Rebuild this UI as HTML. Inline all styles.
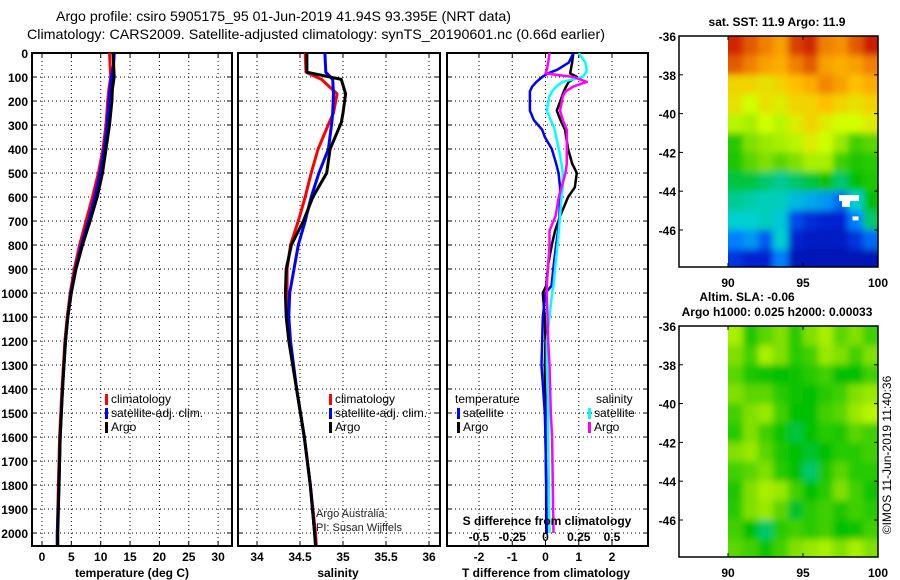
<!DOCTYPE html>
<html><head><meta charset="utf-8"><style>
html,body{margin:0;padding:0;background:#fff;}
svg{display:block;font-family:"Liberation Sans",sans-serif;}
</style></head><body>
<svg id="c" width="900" height="580" viewBox="0 0 900 580">
<defs><filter id="smooth" x="-5%" y="-5%" width="110%" height="110%"><feGaussianBlur stdDeviation="3.5"/><feComponentTransfer><feFuncA type="table" tableValues="0 1 1 1 1 1 1 1 1 1"/></feComponentTransfer></filter></defs>
</svg>
<script>
// ---- data ----
const depths = [0,50,100,150,200,300,400,500,600,700,800,900,1000,1100,1200,1400,1600,1800,2000,2050];
const tempArgo = [12.1,12.2,12.3,12.0,11.9,11.5,10.9,10.3,9.4,8.2,6.9,5.8,5.0,4.4,4.0,3.5,3.1,2.9,2.7,2.7];
const tempClim = [11.5,11.6,11.7,11.4,11.2,10.9,10.4,9.6,8.6,7.5,6.4,5.5,4.8,4.3,3.9,3.4,3.0,2.8,2.6,2.6];
const tempSat  = [12.3,12.2,11.8,11.6,11.4,11.1,10.6,9.9,9.0,7.9,6.7,5.7,4.9,4.4,4.0,3.5,3.1,2.9,2.6,2.6];
const salDepths = [0,80,110,170,250,290,400,500,600,700,800,900,1000,1100,1200,1400,1600,1800,2000,2050];
const salArgo = [34.58,34.58,34.98,35.03,35.00,34.98,34.85,34.81,34.65,34.54,34.40,34.34,34.33,34.34,34.37,34.46,34.55,34.62,34.67,34.68];
const salClim = [34.56,34.57,34.75,34.93,34.89,34.84,34.71,34.63,34.56,34.48,34.39,34.35,34.35,34.36,34.38,34.46,34.55,34.62,34.68,34.69];
const salSat  = [34.79,34.80,34.88,34.89,34.88,34.87,34.83,34.72,34.63,34.56,34.48,34.43,34.38,34.37,34.39,34.46,34.55,34.62,34.67,34.68];
const diffDepths = [0,40,70,85,100,120,140,160,180,240,280,320,350,400,460,500,560,600,680,740,800,880,970,1000,1100,1200,1300,1500,1600,1800,2000];
const dT_argo = [0.84,0.80,0.76,0.74,0.95,0.70,0.62,0.55,0.50,0.34,0.45,0.59,0.62,0.68,0.80,0.94,0.88,0.68,0.44,0.29,0.19,0.08,0.02,-0.08,-0.02,0.0,-0.02,0.0,0.0,0.02,0.02];
const dT_sat  = [0.84,0.70,0.35,0.07,-0.10,-0.27,-0.40,-0.47,-0.47,-0.47,-0.35,-0.10,-0.02,0.19,0.32,0.39,0.44,0.44,0.42,0.38,0.32,0.25,0.18,0.0,-0.08,-0.10,-0.12,-0.02,0.0,0.02,0.04];
const dS_sat  = [0.25,0.30,0.31,0.30,0.28,0.13,0.08,0.05,0.03,0.01,0.04,0.07,0.08,0.10,0.12,0.13,0.13,0.12,0.11,0.10,0.09,0.075,0.06,0.05,0.03,0.01,0.01,0.02,0.02,0.025,0.03];
const dS_argo = [0.03,0.02,0.01,0.0,0.21,0.31,0.21,0.15,0.13,0.11,0.13,0.16,0.16,0.16,0.16,0.15,0.12,0.10,0.075,0.03,0.03,0.02,0.01,0.01,0.015,0.02,0.03,0.04,0.05,0.055,0.06];
const tempTicks = [0,5,10,15,20,25,30];
const salTicks = [34,34.5,35,35.5,36];
const salTickLabels = ["34","34.5","35","35.5","36"];
const dTTicks = [-2,-1,0,1,2];
const dSTicks = [-0.5,-0.25,0,0.25,0.5];
const depthTicks = [0,100,200,300,400,500,600,700,800,900,1000,1100,1200,1300,1400,1500,1600,1700,1800,1900,2000];
const latTicks = [-36,-38,-40,-42,-44,-46];
const lonTicks = [90,95,100];
const sstGrid = [
[0.92,0.88,0.85,0.80,0.90,0.92,0.85,0.82,0.88,0.93],
[0.88,0.85,0.80,0.78,0.85,0.88,0.80,0.78,0.80,0.85],
[0.72,0.72,0.70,0.72,0.75,0.78,0.84,0.80,0.75,0.78],
[0.70,0.65,0.70,0.68,0.72,0.72,0.75,0.72,0.70,0.72],
[0.62,0.60,0.65,0.62,0.68,0.72,0.68,0.65,0.65,0.68],
[0.48,0.55,0.58,0.60,0.62,0.68,0.65,0.58,0.50,0.52],
[0.47,0.52,0.55,0.52,0.55,0.60,0.60,0.50,0.47,0.48],
[0.42,0.42,0.40,0.38,0.40,0.42,0.46,0.40,0.45,0.47],
[0.38,0.37,0.36,0.36,0.32,0.30,0.28,0.22,0.35,0.45],
[0.35,0.35,0.36,0.34,0.18,0.14,0.12,0.12,0.25,0.40],
[0.25,0.28,0.20,0.35,0.12,0.10,0.10,0.10,0.15,0.22],
[0.15,0.12,0.12,0.25,0.08,0.08,0.08,0.08,0.08,0.08]];
const slaGrid = [
[0.60,0.47,0.52,0.55,0.48,0.55,0.60,0.52,0.55,0.50],
[0.55,0.50,0.60,0.55,0.48,0.50,0.58,0.55,0.50,0.55],
[0.52,0.47,0.46,0.45,0.46,0.48,0.50,0.45,0.45,0.50],
[0.55,0.52,0.52,0.48,0.46,0.45,0.48,0.50,0.55,0.58],
[0.50,0.55,0.58,0.50,0.45,0.45,0.50,0.52,0.58,0.62],
[0.48,0.55,0.50,0.46,0.42,0.45,0.48,0.47,0.52,0.50],
[0.55,0.58,0.52,0.47,0.45,0.43,0.45,0.48,0.48,0.50],
[0.50,0.52,0.55,0.48,0.45,0.40,0.47,0.52,0.48,0.48],
[0.47,0.55,0.60,0.58,0.50,0.45,0.48,0.55,0.50,0.46],
[0.48,0.55,0.58,0.52,0.43,0.48,0.50,0.47,0.50,0.48],
[0.50,0.45,0.40,0.48,0.50,0.48,0.50,0.45,0.46,0.50],
[0.52,0.50,0.46,0.50,0.55,0.58,0.60,0.55,0.60,0.55]];

const NS="http://www.w3.org/2000/svg";
const svg=document.getElementById('c');
function el(tag,attrs,parent){const e=document.createElementNS(NS,tag);for(const k in attrs)e.setAttribute(k,attrs[k]);(parent||svg).appendChild(e);return e;}
function txt(s,x,y,attrs,parent){const t=el('text',Object.assign({x:x,y:y,'font-size':13,'font-weight':'bold',fill:'#000'},attrs||{}),parent);t.textContent=s;return t;}

const TOP=53, BOT=546;
const yD=d=>TOP+d*0.24;
const P1={l:32,r:232}, P2={l:238,r:440}, P3={l:447,r:648};
const xT=v=>42+v*5.87;
const xS=v=>257+(v-34)*86;
const xDT=v=>545.5+v*33.25;
const xDS=v=>545.5+v*133;

function panel(P,name,vticks,xf){
  const g=el('g',{});
  
  
  el('rect',{x:P.l,y:TOP,width:P.r-P.l,height:BOT-TOP,fill:'#fff',stroke:'none'},g);
  depthTicks.forEach(d=>{el('line',{x1:P.l,x2:P.r,y1:yD(d),y2:yD(d),stroke:'#000','stroke-width':1,'stroke-dasharray':'1,3'},g);
    el('line',{x1:P.l,x2:P.l+5,y1:yD(d),y2:yD(d),stroke:'#000'},g);el('line',{x1:P.r-5,x2:P.r,y1:yD(d),y2:yD(d),stroke:'#000'},g);});
  vticks.forEach(v=>{const x=xf(v);el('line',{x1:x,x2:x,y1:TOP,y2:BOT,stroke:'#000','stroke-width':1,'stroke-dasharray':'1,3'},g);
    el('line',{x1:x,x2:x,y1:BOT,y2:BOT-5,stroke:'#000'},g);el('line',{x1:x,x2:x,y1:TOP,y2:TOP+5,stroke:'#000'},g);});
  return g;
}
function frame(P,g){el('rect',{x:P.l,y:TOP,width:P.r-P.l,height:BOT-TOP,fill:'none',stroke:'#000','stroke-width':2},g);}
function clip(P,id){const cp=el('clipPath',{id:id});el('rect',{x:P.l,y:TOP,width:P.r-P.l,height:BOT-TOP},cp);}
clip(P1,'c1');clip(P2,'c2');clip(P3,'c3');
function line(ds,vals,xf,color,name,cid,w){
  const pts=ds.map((d,i)=>xf(vals[i]).toFixed(1)+','+yD(d).toFixed(1)).join(' ');
  const p=el('polyline',{points:pts,fill:'none',stroke:color,'stroke-width':w||3,'stroke-linejoin':'round','clip-path':'url(#'+cid+')'});
  
  
}
function legendEntry(x,y,color,label,name,g){
  const e=el('g',{},g);
  
  
  el('rect',{x:x,y:y-9,width:3,height:11,fill:color},e);
  txt(label,x+6,y,{'font-size':12,'font-weight':'normal'},e);
}

txt('Argo profile: csiro 5905175_95 01-Jun-2019 41.94S 93.395E (NRT data)',56,21,{'font-size':14,'font-weight':'normal',textLength:455,lengthAdjust:'spacingAndGlyphs'});
txt('Climatology: CARS2009. Satellite-adjusted climatology: synTS_20190601.nc (0.66d earlier)',27,39,{'font-size':14,'font-weight':'normal',textLength:578,lengthAdjust:'spacingAndGlyphs'});

depthTicks.forEach(d=>{const t=txt(String(d),28,yD(d)+5,{'text-anchor':'end','font-size':12});});

const g1=panel(P1,'temperature-panel',tempTicks,xT);
line(depths,tempClim,xT,'#f00','climatology-temp-line','c1');
line(depths,tempSat,xT,'#00f','satellite-temp-line','c1');
line(depths,tempArgo,xT,'#000','argo-temp-line','c1');
frame(P1,g1);
tempTicks.forEach(v=>{const t=txt(String(v),xT(v),561,{'text-anchor':'middle','font-size':12});});
txt('temperature (deg C)',132,577,{'text-anchor':'middle','font-size':12});
const lg1=el('g',{});
legendEntry(105,403,'#f00','climatology','legend-climatology',lg1);
legendEntry(105,417,'#00f','satellite-adj. clim.','legend-satellite',lg1);
legendEntry(105,431,'#000','Argo','legend-argo',lg1);

const g2=panel(P2,'salinity-panel',salTicks,xS);
line(salDepths,salClim,xS,'#f00','climatology-sal-line','c2');
line(salDepths,salSat,xS,'#00f','satellite-sal-line','c2');
line(salDepths,salArgo,xS,'#000','argo-sal-line','c2');
frame(P2,g2);
salTicks.forEach((v,i)=>{const t=txt(salTickLabels[i],xS(v),561,{'text-anchor':'middle','font-size':12});});
txt('salinity',338,577,{'text-anchor':'middle','font-size':12});
const lg2=el('g',{});
legendEntry(329,403,'#f00','climatology','legend-climatology',lg2);
legendEntry(329,417,'#00f','satellite-adj. clim.','legend-satellite',lg2);
legendEntry(329,431,'#000','Argo','legend-argo',lg2);
txt('Argo Australia',316,517,{'font-size':11,'font-weight':'normal',fill:'#222'});
txt('PI: Susan Wijffels',316,531,{'font-size':11,'font-weight':'normal',fill:'#222'});

const g3=panel(P3,'difference-panel',dTTicks,xDT);
line(diffDepths,dT_argo,xDT,'#000','argo-temp-diff-line','c3',2.5);
line(diffDepths,dT_sat,xDT,'#00f','satellite-temp-diff-line','c3',2.5);
line(diffDepths,dS_sat,xDS,'#0ff','satellite-sal-diff-line','c3',2.5);
line(diffDepths,dS_argo,xDS,'#f0f','argo-sal-diff-line','c3',2.5);
frame(P3,g3);
dTTicks.forEach(v=>{const t=txt(String(v),xDT(v),561,{'text-anchor':'middle','font-size':12});});
txt('T difference from climatology',546,577,{'text-anchor':'middle','font-size':12});
txt('S difference from climatology',547,525,{'text-anchor':'middle','font-size':12});
dSTicks.forEach(v=>{const t=txt(String(v),xDS(v),541,{'text-anchor':'middle','font-size':12});});
const lg3=el('g',{});
txt('temperature',455,403,{'font-size':12,'font-weight':'normal'},lg3);
txt('salinity',596,403,{'font-size':12,'font-weight':'normal'},lg3);
legendEntry(457,417,'#00f','satellite','legend-temp-satellite',lg3);
legendEntry(457,431,'#000','Argo','legend-temp-argo',lg3);
legendEntry(588,417,'#0ff','satellite','legend-sal-satellite',lg3);
legendEntry(588,431,'#f0f','Argo','legend-sal-argo',lg3);

const cstops=[[0,[0,0,127]],[0.12,[0,32,208]],[0.25,[0,128,255]],[0.35,[0,208,208]],[0.45,[0,192,0]],[0.55,[128,224,0]],[0.65,[208,255,0]],[0.75,[255,192,0]],[0.85,[240,128,0]],[0.95,[192,0,0]],[1,[144,0,0]]];
function cmap(v){for(let i=1;i<cstops.length;i++){if(v<=cstops[i][0]){const a=cstops[i-1],b=cstops[i];const f=(v-a[0])/(b[0]-a[0]);const c=a[1].map((q,j)=>Math.round(q+(b[1][j]-q)*f));return 'rgb('+c.join(',')+')';}}return 'rgb(144,0,0)';}
function map(top,bottom,grid,name){
  const L=679,R=878;
  const xL=lon=>728+(lon-90)*15;
  const yL=lat=>top+(-36-lat)*19.4;
  const g=el('g',{});
  
  
  const cpid='cp'+name;const cp=el('clipPath',{id:cpid},g);el('rect',{x:728,y:top,width:R-728,height:bottom-top},cp);
  const outer=el('g',{'clip-path':'url(#'+cpid+')'},g);
  const cg=el('g',{filter:'url(#smooth)'},outer);
  grid.forEach((row,r)=>row.forEach((v,c)=>{
    const cell=el('rect',{x:xL(90+c),y:yL(-36-r),width:15.5,height:20,fill:cmap(v)},cg);
    
    
  }));
  el('rect',{x:L,y:top,width:R-L,height:bottom-top,fill:'none',stroke:'#000','stroke-width':1.5},g);
  latTicks.forEach(l=>{el('line',{x1:L,x2:L+4,y1:yL(l),y2:yL(l),stroke:'#000'},g);el('line',{x1:R-4,x2:R,y1:yL(l),y2:yL(l),stroke:'#000'},g);
    txt(String(l),676,yL(l)+5,{'text-anchor':'end','font-size':12},g);});
  lonTicks.forEach(l=>{el('line',{x1:xL(l),x2:xL(l),y1:bottom,y2:bottom-4,stroke:'#000'},g);el('line',{x1:xL(l),x2:xL(l),y1:top,y2:top+4,stroke:'#000'},g);
    txt(String(l),xL(l),bottom+20,{'text-anchor':'middle','font-size':12},g);});
  return {g,xL,yL};
}
const m1=map(36,267,sstGrid,'sst-map');
el('rect',{x:m1.xL(97.4),y:m1.yL(-44.2),width:20,height:6,fill:'#fff'},m1.g);
el('rect',{x:m1.xL(97.6),y:m1.yL(-44.5),width:8,height:6,fill:'#fff'},m1.g);
el('rect',{x:m1.xL(98.3),y:m1.yL(-45.3),width:6,height:4,fill:'#fff'},m1.g);
txt('sat. SST: 11.9 Argo: 11.9',777,26,{'text-anchor':'middle','font-size':12});
const m2=map(326,557,slaGrid,'sla-map');
txt('Altim. SLA: -0.06',747,301,{'text-anchor':'middle','font-size':12});
txt('Argo h1000: 0.025 h2000: 0.00033',777,316,{'text-anchor':'middle','font-size':12});
const cr=txt('©IMOS 11-Jun-2019 11:40:36',0,0,{'font-size':12,'font-weight':'normal','text-anchor':'middle',transform:'translate(891,455) rotate(-90)'});

</script>
</body></html>
